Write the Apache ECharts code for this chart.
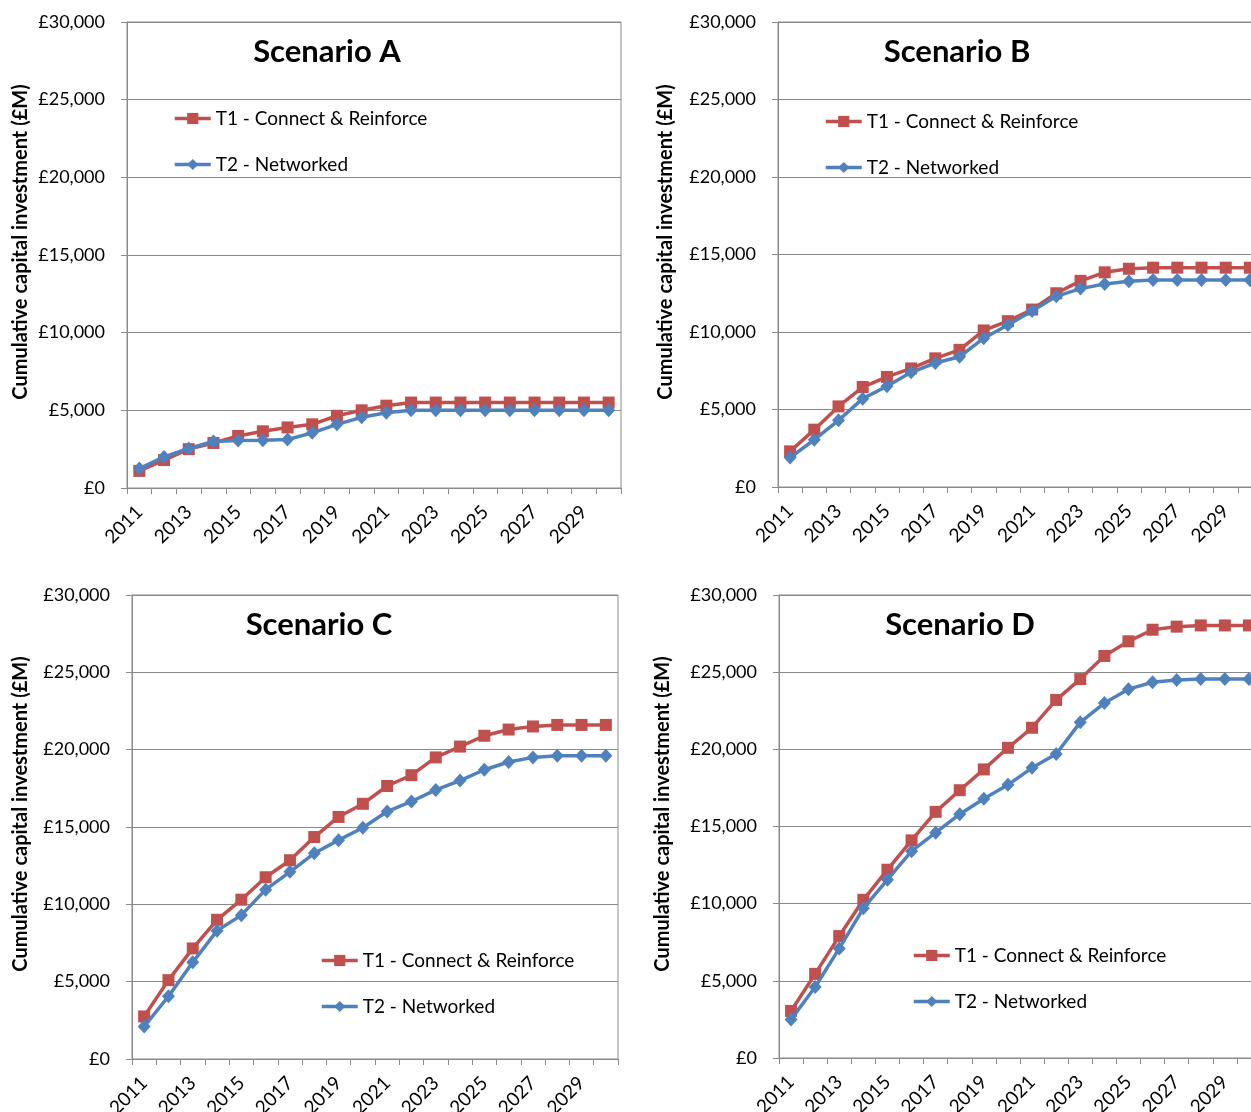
<!DOCTYPE html>
<html>
<head>
<meta charset="utf-8">
<script src="https://cdn.jsdelivr.net/npm/echarts@6/dist/echarts.min.js"></script>
<style>
  html, body { margin: 0; padding: 0; background: #fff; }
  #chart { width: 1251px; height: 1112px; }
</style>
</head>
<body>
<div id="chart"></div>
<script>
// Years on the category axis
const years = ['2011','2012','2013','2014','2015','2016','2017','2018','2019','2020',
               '2021','2022','2023','2024','2025','2026','2027','2028','2029','2030'];

// Value axis ticks (£M)
const yMin = 0;
const yMax = 30000;
const yStep = 5000;

const seriesNames = ['T1 - Connect & Reinforce', 'T2 - Networked'];
const scenarioTitles = ['Scenario A', 'Scenario B', 'Scenario C', 'Scenario D'];
const axisTitle = 'Cumulative capital investment (£M)';

// Cumulative capital investment, £M
const scenarioA_T1 = [1100, 1800, 2500, 2900, 3350, 3650, 3900, 4100, 4650, 5000,
                      5300, 5500, 5500, 5500, 5500, 5500, 5500, 5500, 5500, 5500];
const scenarioA_T2 = [1250, 2000, 2550, 3000, 3050, 3070, 3120, 3550, 4100, 4550,
                      4850, 5000, 5000, 5000, 5000, 5000, 5000, 5000, 5000, 5000];

const scenarioB_T1 = [2300, 3700, 5200, 6450, 7100, 7650, 8300, 8850, 10100, 10700,
                      11450, 12500, 13300, 13850, 14080, 14150, 14150, 14150, 14150, 14150];
const scenarioB_T2 = [1900, 3050, 4300, 5700, 6500, 7400, 8000, 8400, 9600, 10450,
                      11350, 12300, 12800, 13100, 13270, 13350, 13350, 13350, 13350, 13350];

const scenarioC_T1 = [2750, 5100, 7150, 9000, 10300, 11750, 12850, 14350, 15650, 16500,
                      17650, 18350, 19500, 20200, 20900, 21300, 21500, 21600, 21600, 21600];
const scenarioC_T2 = [2100, 4050, 6250, 8300, 9300, 10950, 12100, 13300, 14150, 14950,
                      16000, 16650, 17400, 18000, 18700, 19200, 19500, 19600, 19600, 19600];

const scenarioD_T1 = [3050, 5450, 7900, 10250, 12200, 14100, 15950, 17350, 18700, 20100,
                      21400, 23200, 24550, 26050, 27000, 27750, 27950, 28030, 28030, 28030];
const scenarioD_T2 = [2500, 4600, 7100, 9700, 11550, 13400, 14600, 15800, 16800, 17700,
                      18800, 19700, 21750, 23000, 23900, 24350, 24500, 24550, 24550, 24550];

const panelData = [
  [scenarioA_T1, scenarioA_T2],
  [scenarioB_T1, scenarioB_T2],
  [scenarioC_T1, scenarioC_T2],
  [scenarioD_T1, scenarioD_T2]
];

// Panel layout (pixels); the right-hand panels run past the page edge
const panels = [
  { left: 127, top: 22,  width: 494, height: 466, titleX: 327, titleY: 52,  axisTitleX: 21,  axisTitleY: 242, legendX: 173, legendY: 118 },
  { left: 778, top: 22,  width: 484, height: 465, titleX: 957, titleY: 52,  axisTitleX: 666, axisTitleY: 242, legendX: 824, legendY: 121 },
  { left: 132, top: 595, width: 486, height: 464, titleX: 319, titleY: 625, axisTitleX: 21,  axisTitleY: 814, legendX: 320, legendY: 960 },
  { left: 779, top: 595, width: 482, height: 463, titleX: 960, titleY: 625, axisTitleX: 663, axisTitleY: 814, legendX: 912, legendY: 955 }
];

const FONT = 'Lato';
const RED = '#C0504D';
const BLUE = '#4F81BD';
const GRID_GRAY = '#8A8A8A';

function money(v) {
  return '£' + String(v).replace(/\B(?=(\d{3})+(?!\d))/g, ',');
}

const option = {
  backgroundColor: '#ffffff',
  animation: false,
  title: panels.map((p, i) => ({
    text: scenarioTitles[i],
    left: p.titleX,
    top: p.titleY,
    padding: 0,
    textAlign: 'center',
    textVerticalAlign: 'middle',
    textStyle: { fontFamily: FONT, fontWeight: 'bold', fontSize: 31, color: '#000' }
  })),
  legend: panels.map(p => ({
    orient: 'vertical',
    left: p.legendX,
    top: p.legendY - 9,
    padding: 0,
    itemWidth: 36,
    itemHeight: 14,
    itemGap: 27,
    selectedMode: false,
    data: seriesNames,
    lineStyle: { width: 3.5 },
    textStyle: { fontFamily: FONT, fontSize: 19, color: '#000' }
  })),
  grid: panels.map(p => ({
    left: p.left, top: p.top, width: p.width, height: p.height,
    show: true, borderColor: GRID_GRAY, borderWidth: 1, backgroundColor: 'transparent',
    containLabel: false,
    outerBoundsMode: 'none'
  })),
  xAxis: panels.map((p, i) => ({
    type: 'category',
    gridIndex: i,
    data: years,
    boundaryGap: true,
    axisLine: { lineStyle: { color: GRID_GRAY, width: 1 } },
    axisTick: { show: true, interval: 0, length: 6, lineStyle: { color: GRID_GRAY } },
    axisLabel: {
      interval: 1, rotate: 45, margin: 21,
      fontFamily: FONT, fontSize: 19, color: '#000'
    },
    splitLine: { show: false }
  })),
  yAxis: panels.map((p, i) => ({
    type: 'value',
    gridIndex: i,
    min: yMin, max: yMax, interval: yStep,
    axisLine: { show: true, lineStyle: { color: GRID_GRAY, width: 1 } },
    axisTick: { show: true, length: 6, lineStyle: { color: GRID_GRAY } },
    axisLabel: {
      margin: 22, formatter: money,
      fontFamily: FONT, fontSize: 18, color: '#000'
    },
    splitLine: { show: true, lineStyle: { color: GRID_GRAY, width: 1 } }
  })),
  graphic: panels.map(p => ({
    type: 'text',
    x: p.axisTitleX,
    y: p.axisTitleY,
    rotation: Math.PI / 2,
    style: {
      text: axisTitle,
      fontFamily: FONT, fontWeight: 'bold', fontSize: 20, fill: '#000',
      align: 'center', verticalAlign: 'middle'
    }
  })),
  series: []
};

panelData.forEach((pair, i) => {
  option.series.push({
    name: seriesNames[0], type: 'line', xAxisIndex: i, yAxisIndex: i,
    data: pair[0],
    symbol: 'rect', symbolSize: 12,
    lineStyle: { color: RED, width: 3.5 },
    itemStyle: { color: RED },
    z: 2
  });
  option.series.push({
    name: seriesNames[1], type: 'line', xAxisIndex: i, yAxisIndex: i,
    data: pair[1],
    symbol: 'diamond', symbolSize: [13, 14],
    lineStyle: { color: BLUE, width: 3.5 },
    itemStyle: { color: BLUE },
    z: 3
  });
});

const chart = echarts.init(document.getElementById('chart'), null, { renderer: 'canvas' });
chart.setOption(option);
</script>
</body>
</html>
